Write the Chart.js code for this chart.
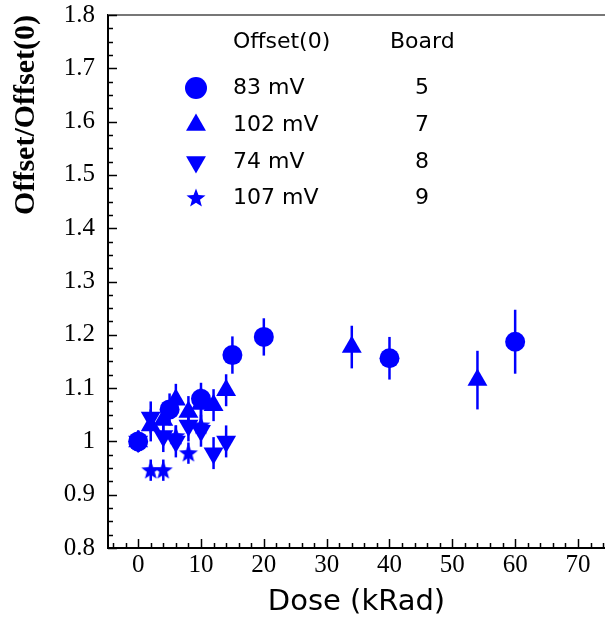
<!DOCTYPE html>
<html>
<head>
<meta charset="utf-8">
<script src="https://cdn.jsdelivr.net/npm/chart.js@4/dist/chart.umd.min.js"></script>
<style>
  html, body { margin: 0; padding: 0; background: #ffffff; }
  #wrap { width: 605px; height: 618px; }
</style>
</head>
<body>
<div id="wrap"><canvas id="c" width="605" height="618"></canvas></div>
<script>
// ---- data ----
const xTickValues = [0, 10, 20, 30, 40, 50, 60, 70];
const yTickValues = [0.8, 0.9, 1.0, 1.1, 1.2, 1.3, 1.4, 1.5, 1.6, 1.7, 1.8];
const yTickLabels = ['0.8', '0.9', '1', '1.1', '1.2', '1.3', '1.4', '1.5', '1.6', '1.7', '1.8'];

const legendHeader = ['Offset(0)', 'Board'];
const offsets = ['83 mV', '102 mV', '74 mV', '107 mV'];
const boards = ['5', '7', '8', '9'];

const doseB5 = [0, 5, 10, 15, 20, 40, 60];
const ratioB5 = [1.0, 1.06, 1.08, 1.162, 1.196, 1.156, 1.187];
const errB5 = [0.02, 0.03, 0.03, 0.035, 0.035, 0.04, 0.06];

const doseB7 = [0, 2, 4, 6, 8, 10, 12, 14, 34, 54];
const ratioB7 = [1.0, 1.03, 1.04, 1.078, 1.055, 1.07, 1.068, 1.096, 1.177, 1.115];
const errB7 = [0.02, 0.03, 0.03, 0.03, 0.03, 0.03, 0.03, 0.03, 0.04, 0.055];

const doseB8 = [0, 2, 4, 6, 8, 10, 12, 14];
const ratioB8 = [1.0, 1.045, 1.01, 1.0, 1.03, 1.02, 0.978, 1.0];
const errB8 = [0.02, 0.03, 0.03, 0.03, 0.03, 0.03, 0.03, 0.03];

const doseB9 = [0, 2, 4, 6, 8, 10];
const ratioB9 = [1.0, 0.946, 0.946, 1.01, 0.978, 1.03];
const errB9 = [0.02, 0.02, 0.02, 0.02, 0.02, 0.02];

// ---- styling ----
const BLUE = '#0000ff';

function makeStar(r, color) {
  const c = document.createElement('canvas');
  const s = Math.ceil(2 * r + 2);
  c.width = s; c.height = s;
  const g = c.getContext('2d');
  g.fillStyle = color;
  g.beginPath();
  for (let i = 0; i < 10; i++) {
    const rad = (i % 2) ? r * 0.42 : r;
    const a = -Math.PI / 2 + i * Math.PI / 5;
    g.lineTo(s / 2 + rad * Math.cos(a), s / 2 + 0.5 + rad * Math.sin(a));
  }
  g.closePath();
  g.fill();
  return c;
}
const starImg = makeStar(10, BLUE);

function pts(xs, ys) { return xs.map((x, i) => ({ x: x, y: ys[i] })); }

const datasets = [
  { label: offsets[0], data: pts(doseB5, ratioB5), errors: errB5, pointStyle: 'circle', pointRadius: 10, pointRotation: 0 },
  { label: offsets[1], data: pts(doseB7, ratioB7), errors: errB7, pointStyle: 'triangle', pointRadius: 11.5, pointRotation: 0 },
  { label: offsets[2], data: pts(doseB8, ratioB8), errors: errB8, pointStyle: 'triangle', pointRadius: 11.5, pointRotation: 180 },
  { label: offsets[3], data: pts(doseB9, ratioB9), errors: errB9, pointStyle: starImg, pointRadius: 10, pointRotation: 0 }
].map(d => Object.assign(d, {
  backgroundColor: BLUE, borderColor: BLUE, borderWidth: 0, showLine: false, pointHoverRadius: d.pointRadius
}));

// error bars drawn with the library's scales
const errorBars = {
  id: 'errorBars',
  beforeDatasetsDraw(chart) {
    const { ctx, scales: { x, y } } = chart;
    ctx.save();
    ctx.strokeStyle = BLUE;
    ctx.lineWidth = 2.5;
    chart.data.datasets.forEach(ds => {
      ds.data.forEach((p, i) => {
        const e = ds.errors[i];
        const px = x.getPixelForValue(p.x);
        ctx.beginPath();
        ctx.moveTo(px, y.getPixelForValue(p.y - e));
        ctx.lineTo(px, y.getPixelForValue(p.y + e));
        ctx.stroke();
      });
    });
    ctx.restore();
  }
};

// inner ticks + top frame line
const frameTicks = {
  id: 'frameTicks',
  afterDraw(chart) {
    const { ctx, chartArea: a, scales: { x, y } } = chart;
    ctx.save();
    ctx.strokeStyle = '#777';
    ctx.lineWidth = 2;
    ctx.beginPath();
    ctx.moveTo(a.left, a.top);
    ctx.lineTo(a.right, a.top);
    ctx.stroke();

    ctx.strokeStyle = '#000';
    ctx.lineWidth = 1.5;
    // x ticks
    for (let v = -4; v <= x.max; v += 2) {
      const px = Math.round(x.getPixelForValue(v)) + 0.5;
      const major = xTickValues.includes(v);
      ctx.beginPath();
      ctx.moveTo(px, a.bottom);
      ctx.lineTo(px, a.bottom - (major ? 9 : 5));
      ctx.stroke();
    }
    // y ticks
    for (let k = 0; k <= 40; k++) {
      const v = 0.8 + k * 0.025;
      const py = Math.round(y.getPixelForValue(v)) + 0.5;
      const major = (k % 4 === 0);
      ctx.beginPath();
      ctx.moveTo(a.left, py);
      ctx.lineTo(a.left + (major ? 9 : 5), py);
      ctx.stroke();
    }
    ctx.restore();
  }
};

// legend table
function drawMarker(ctx, kind, cx, cy) {
  ctx.fillStyle = BLUE;
  ctx.beginPath();
  if (kind === 0) {
    ctx.arc(cx, cy, 11, 0, Math.PI * 2);
  } else if (kind === 1 || kind === 2) {
    const r = 11.5;
    const s = kind === 1 ? 1 : -1;
    ctx.moveTo(cx, cy - s * r);
    ctx.lineTo(cx + r * Math.sin(Math.PI / 3 * 2), cy + s * r * 0.5);
    ctx.lineTo(cx - r * Math.sin(Math.PI / 3 * 2), cy + s * r * 0.5);
    ctx.closePath();
  } else {
    ctx.drawImage(starImg, cx - starImg.width / 2, cy - starImg.height / 2);
    return;
  }
  ctx.fill();
}
const tableLegend = {
  id: 'tableLegend',
  afterDraw(chart) {
    const ctx = chart.ctx;
    ctx.save();
    ctx.fillStyle = '#000';
    ctx.font = '22px "DejaVu Sans"';
    ctx.textBaseline = 'middle';
    ctx.textAlign = 'left';
    ctx.fillText(legendHeader[0], 233, 42);
    ctx.fillText(legendHeader[1], 390, 42);
    const rowY = [88, 125, 162, 198];
    offsets.forEach((t, i) => {
      ctx.fillStyle = '#000';
      ctx.textAlign = 'left';
      ctx.fillText(t, 233, rowY[i]);
      ctx.textAlign = 'center';
      ctx.fillText(boards[i], 422, rowY[i]);
      drawMarker(ctx, i, 196, rowY[i]);
    });
    ctx.restore();
  }
};

new Chart(document.getElementById('c'), {
  type: 'scatter',
  data: { datasets: datasets },
  options: {
    responsive: false,
    animation: false,
    events: [],
    layout: { autoPadding: false, padding: { top: 15, left: 0, right: 0, bottom: 0 } },
    plugins: { legend: { display: false }, tooltip: { enabled: false } },
    scales: {
      x: {
        type: 'linear', min: -4.8, max: 74.3,
        afterBuildTicks: s => { s.ticks = xTickValues.map(v => ({ value: v })); },
        afterFit: s => { s.height = 70; s.paddingLeft = 0; s.paddingRight = 0; },
        grid: { display: true, drawOnChartArea: false, drawTicks: false },
        border: { display: true, color: '#000', width: 2 },
        ticks: { font: { family: 'Liberation Serif', size: 25 }, color: '#000', padding: 2, autoSkip: false, maxRotation: 0 },
        title: { display: true, text: 'Dose (kRad)', color: '#000', font: { family: 'DejaVu Sans', size: 29 }, padding: { top: 0, bottom: -2 } }
      },
      y: {
        type: 'linear', min: 0.8, max: 1.8,
        afterBuildTicks: s => { s.ticks = yTickValues.map(v => ({ value: v })); },
        afterFit: s => { s.width = 108; s.paddingTop = 0; s.paddingBottom = 0; },
        grid: { display: true, drawOnChartArea: false, drawTicks: false },
        border: { display: true, color: '#000', width: 2 },
        ticks: {
          font: { family: 'Liberation Serif', size: 25 }, color: '#000', padding: 13, autoSkip: false,
          callback: (v) => { const i = yTickValues.findIndex(t => Math.abs(t - v) < 1e-6); return i >= 0 ? yTickLabels[i] : ''; }
        },
        title: { display: true, text: 'Offset/Offset(0)', align: 'end', color: '#000', font: { family: 'Liberation Serif', size: 30, weight: 'bold' }, padding: { top: 8, bottom: 0 } }
      }
    }
  },
  plugins: [errorBars, frameTicks, tableLegend]
});
</script>
</body>
</html>
